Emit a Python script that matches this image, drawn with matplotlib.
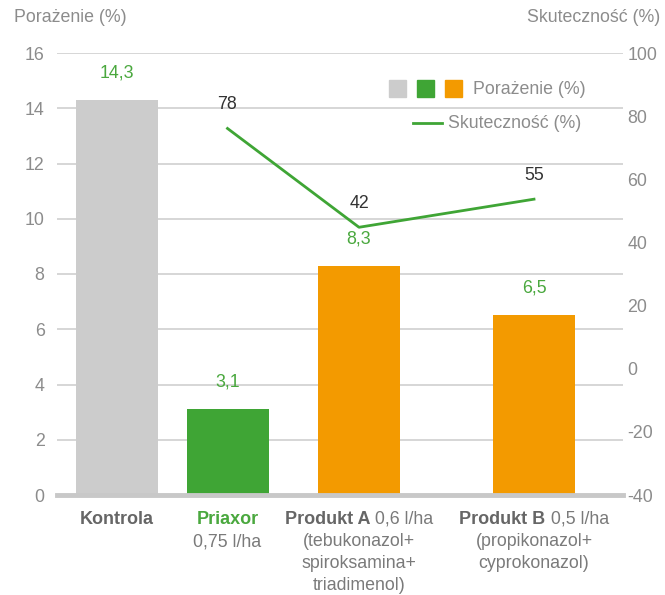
import matplotlib
matplotlib.use("Agg")
import matplotlib.pyplot as plt
from matplotlib.transforms import IdentityTransform
from matplotlib.patches import Rectangle
from matplotlib.lines import Line2D

plt.rcParams['font.family'] = ['Liberation Sans', 'DejaVu Sans']

# ---- data ----
categories = ["Kontrola", "Priaxor", "Produkt A", "Produkt B"]
porazenie = [14.3, 3.1, 8.3, 6.5]
porazenie_labels = ["14,3", "3,1", "8,3", "6,5"]
skutecznosc_cats = ["Priaxor", "Produkt A", "Produkt B"]
skutecznosc = [76.1, 44.8, 53.7]          # as drawn
skutecznosc_labels = ["78", "42", "55"]   # as printed
left_ticks = [0, 2, 4, 6, 8, 10, 12, 14, 16]
right_ticks = [-40, -20, 0, 20, 40, 60, 80, 100]

# ---- layout / style ----
W, H = 665, 595
xpos = {"Kontrola": 60, "Priaxor": 170.5, "Produkt A": 302, "Produkt B": 477}
bar_w = 82
bar_colors = ["#cccccc", "#3fa535", "#f39a00", "#f39a00"]
green = "#3fa535"
label_green = "#4aa83e"
grey_txt = "#8c8c8c"
dark_cat = "#666666"
sub_txt = "#7a7a7a"
grid_c = "#cfcfcf"
FS = 12.8
FSB = 13

fig = plt.figure(figsize=(W / 100, H / 100), dpi=100)
ax = fig.add_axes([57 / W, 1 - 495 / H, (623 - 57) / W, (495 - 53) / H])
ax.set_xlim(0, 566)
ax.set_ylim(0, 16)
ax.set_yticks(left_ticks)
ax.set_yticklabels([str(t) for t in left_ticks])
ax.tick_params(axis='y', length=0, pad=9, labelsize=FS, labelcolor=grey_txt)
ax.set_xticks([])
for s in ax.spines.values():
    s.set_visible(False)
ax.grid(axis='y', color=grid_c, linewidth=1.2)
ax.set_axisbelow(True)
ax.axhline(0, color="#c8c8c8", linewidth=3.5, zorder=5, clip_on=False)

xs = [xpos[c] for c in categories]
ax.bar(xs, porazenie, width=bar_w, color=bar_colors, zorder=3)
for x, v, lab in zip(xs, porazenie, porazenie_labels):
    ax.annotate(lab, (x, v), xytext=(0, 19.5), textcoords='offset points',
                ha='center', va='center', color=label_green, fontsize=FS)

ax2 = ax.twinx()
ax2.set_ylim(-40, 100)
ax2.set_yticks(right_ticks)
ax2.set_yticklabels([str(t) for t in right_ticks])
ax2.tick_params(axis='y', length=0, pad=3, labelsize=FS, labelcolor=grey_txt)
for s in ax2.spines.values():
    s.set_visible(False)
lx = [xpos[c] for c in skutecznosc_cats]
ax2.plot(lx, skutecznosc, color=green, linewidth=2, zorder=6)
for x, v, lab in zip(lx, skutecznosc, skutecznosc_labels):
    ax2.annotate(lab, (x, v), xytext=(0, 17), textcoords='offset points',
                 ha='center', va='center', color="#333333", fontsize=FS)

# axis titles
fig.text(14 / W, 1 - 18 / H, "Porażenie (%)", ha='left', va='center',
         color=grey_txt, fontsize=FS)
fig.text(660 / W, 1 - 18 / H, "Skuteczność (%)", ha='right', va='center',
         color=grey_txt, fontsize=FS)

# legend
for i, c in enumerate(["#cccccc", "#3fa535", "#f39a00"]):
    x0 = 389 + i * 28
    fig.add_artist(Rectangle((x0 / W, 1 - 97 / H), 17 / W, 17 / H,
                             transform=fig.transFigure, color=c))
fig.text(473 / W, 1 - 89 / H, "Porażenie (%)", ha='left', va='center',
         color=grey_txt, fontsize=FS)
fig.add_artist(Line2D([413 / W, 442 / W], [1 - 123 / H, 1 - 123 / H],
                      transform=fig.transFigure, color=green, linewidth=2))
fig.text(448 / W, 1 - 124 / H, "Skuteczność (%)", ha='left', va='center',
         color=grey_txt, fontsize=FS)

# category labels (mixed styles)
renderer = fig.canvas.get_renderer()


def mixed_line(cat, y_px, parts):
    xc = ax.transData.transform((xpos[cat], 0))[0]
    yd = H - y_px
    texts = []
    widths = []
    for txt, weight, color in parts:
        fs = FSB if weight == 'bold' else FS
        t = fig.text(0, 0, txt, fontsize=fs, fontweight=weight, color=color,
                     transform=IdentityTransform(), ha='left', va='center')
        texts.append(t)
        widths.append(t.get_window_extent(renderer).width)
    total = sum(widths)
    x = xc - total / 2
    for t, w in zip(texts, widths):
        t.set_position((x, yd))
        x += w


rows = [519, 542, 564, 586]
mixed_line("Kontrola", rows[0], [("Kontrola", 'bold', dark_cat)])
mixed_line("Priaxor", rows[0], [("Priaxor", 'bold', label_green)])
mixed_line("Priaxor", rows[1], [("0,75 l/ha", 'normal', sub_txt)])
mixed_line("Produkt A", rows[0], [("Produkt A", 'bold', dark_cat),
                                  (" 0,6 l/ha", 'normal', sub_txt)])
mixed_line("Produkt A", rows[1], [("(tebukonazol+", 'normal', sub_txt)])
mixed_line("Produkt A", rows[2], [("spiroksamina+", 'normal', sub_txt)])
mixed_line("Produkt A", rows[3], [("triadimenol)", 'normal', sub_txt)])
mixed_line("Produkt B", rows[0], [("Produkt B", 'bold', dark_cat),
                                  (" 0,5 l/ha", 'normal', sub_txt)])
mixed_line("Produkt B", rows[1], [("(propikonazol+", 'normal', sub_txt)])
mixed_line("Produkt B", rows[2], [("cyprokonazol)", 'normal', sub_txt)])

fig.savefig("out.png", dpi=100)
